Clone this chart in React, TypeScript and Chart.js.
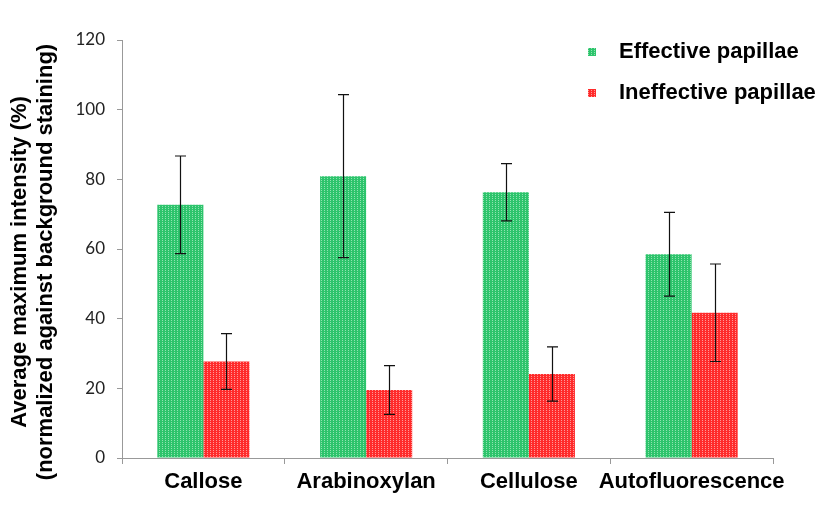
import React, { useEffect, useRef } from "react";
import { Chart, registerables } from "chart.js";

Chart.register(...registerables);

const categories = ["Callose", "Arabinoxylan", "Cellulose", "Autofluorescence"];
const seriesNames = ["Effective papillae", "Ineffective papillae"];
const effectiveValues = [72.7, 80.9, 76.3, 58.5];
const effectiveErrors = [14.0, 23.4, 8.2, 12.0];
const ineffectiveValues = [27.7, 19.5, 24.1, 41.7];
const ineffectiveErrors = [8.0, 7.0, 7.8, 14.0];
const yTitleLines = ["Average maximum intensity (%)", "(normalized against background staining)"];

function makePattern(base: string, light: string): CanvasPattern | string {
  const c = document.createElement("canvas");
  c.width = 3;
  c.height = 2;
  const g = c.getContext("2d");
  if (!g) return base;
  g.fillStyle = base;
  g.fillRect(0, 0, 3, 2);
  g.fillStyle = light;
  g.fillRect(0, 0, 1, 1);
  const p = g.createPattern(c, "repeat");
  return p || base;
}

export default function App() {
  const ref = useRef<HTMLCanvasElement | null>(null);

  useEffect(() => {
    if (!ref.current) return;
    const green = makePattern("#2dc46c", "#8fe3b0");
    const red = makePattern("#ff2b2b", "#ff9898");
    const errors = [effectiveErrors, ineffectiveErrors];
    const fills = [green, red];

    const errorBars = {
      id: "errorBars",
      afterDatasetsDraw(chart: any) {
        const ctx = chart.ctx;
        const y = chart.scales.y;
        ctx.save();
        ctx.strokeStyle = "#111";
        ctx.lineWidth = 1.2;
        chart.data.datasets.forEach((ds: any, i: number) => {
          const meta = chart.getDatasetMeta(i);
          meta.data.forEach((bar: any, j: number) => {
            const v = ds.data[j];
            const e = errors[i][j];
            const x = Math.round(bar.x) + 0.5;
            const yt = y.getPixelForValue(v + e);
            const yb = y.getPixelForValue(v - e);
            ctx.beginPath();
            ctx.moveTo(x, yt);
            ctx.lineTo(x, yb);
            ctx.moveTo(x - 5.5, yt);
            ctx.lineTo(x + 5.5, yt);
            ctx.moveTo(x - 5.5, yb);
            ctx.lineTo(x + 5.5, yb);
            ctx.stroke();
          });
        });
        ctx.restore();
      },
    };

    const extras = {
      id: "extras",
      afterDraw(chart: any) {
        const ctx = chart.ctx;
        ctx.save();
        ctx.font = "bold 22px 'Liberation Sans', Arial, sans-serif";
        ctx.textBaseline = "middle";
        ctx.textAlign = "left";
        seriesNames.forEach((name, i) => {
          const cy = 52 + i * 41;
          ctx.fillStyle = fills[i];
          ctx.fillRect(588, cy - 4, 8, 8);
          ctx.fillStyle = "#000";
          ctx.fillText(name, 619, cy);
        });
        const cyTitle = 262;
        ctx.font = "bold 22px 'Liberation Sans', Arial, sans-serif";
        ctx.textAlign = "center";
        yTitleLines.forEach((line, i) => {
          ctx.save();
          ctx.translate(20 + i * 26, cyTitle);
          ctx.rotate(-Math.PI / 2);
          ctx.fillText(line, 0, 0);
          ctx.restore();
        });
        ctx.restore();
      },
    };

    const chart = new Chart(ref.current, {
      type: "bar",
      data: {
        labels: categories,
        datasets: [
          {
            label: seriesNames[0],
            data: effectiveValues,
            backgroundColor: green as any,
            borderWidth: 0,
          },
          {
            label: seriesNames[1],
            data: ineffectiveValues,
            backgroundColor: red as any,
            borderWidth: 0,
          },
        ],
      },
      options: {
        animation: false,
        responsive: false,
        devicePixelRatio: 1,
        layout: { padding: { left: 0, top: 40, right: 66, bottom: 0 } },
        plugins: {
          legend: { display: false },
          tooltip: { enabled: false },
        },
        datasets: {
          bar: { categoryPercentage: 0.566, barPercentage: 1 },
        },
        scales: {
          x: {
            grid: {
              display: true,
              drawOnChartArea: false,
              drawTicks: true,
              tickLength: 6,
              color: "#999",
              offset: true,
            },
            border: { color: "#999", width: 1 },
            ticks: {
              color: "#000",
              padding: 5,
              font: { family: "'Liberation Sans', Arial, sans-serif", size: 22, weight: "bold" },
              maxRotation: 0,
              autoSkip: false,
            },
            afterFit: (s: any) => {
              s.height = 57;
            },
          },
          y: {
            min: 0,
            max: 120,
            ticks: {
              stepSize: 20,
              color: "#222",
              padding: 12,
              font: { family: "Lato, 'Open Sans', sans-serif", size: 17 },
            },
            grid: {
              display: true,
              drawOnChartArea: false,
              drawTicks: true,
              tickLength: 5,
              color: "#999",
            },
            border: { color: "#999", width: 1 },
            afterFit: (s: any) => {
              s.width = 122;
            },
          },
        },
      },
      plugins: [errorBars, extras],
    });
    return () => chart.destroy();
  }, []);

  return (
    <div style={{ position: "absolute", left: 0, top: 0, width: 839, height: 515, background: "#fff" }}>
      <canvas ref={ref} width={839} height={515} />
    </div>
  );
}
